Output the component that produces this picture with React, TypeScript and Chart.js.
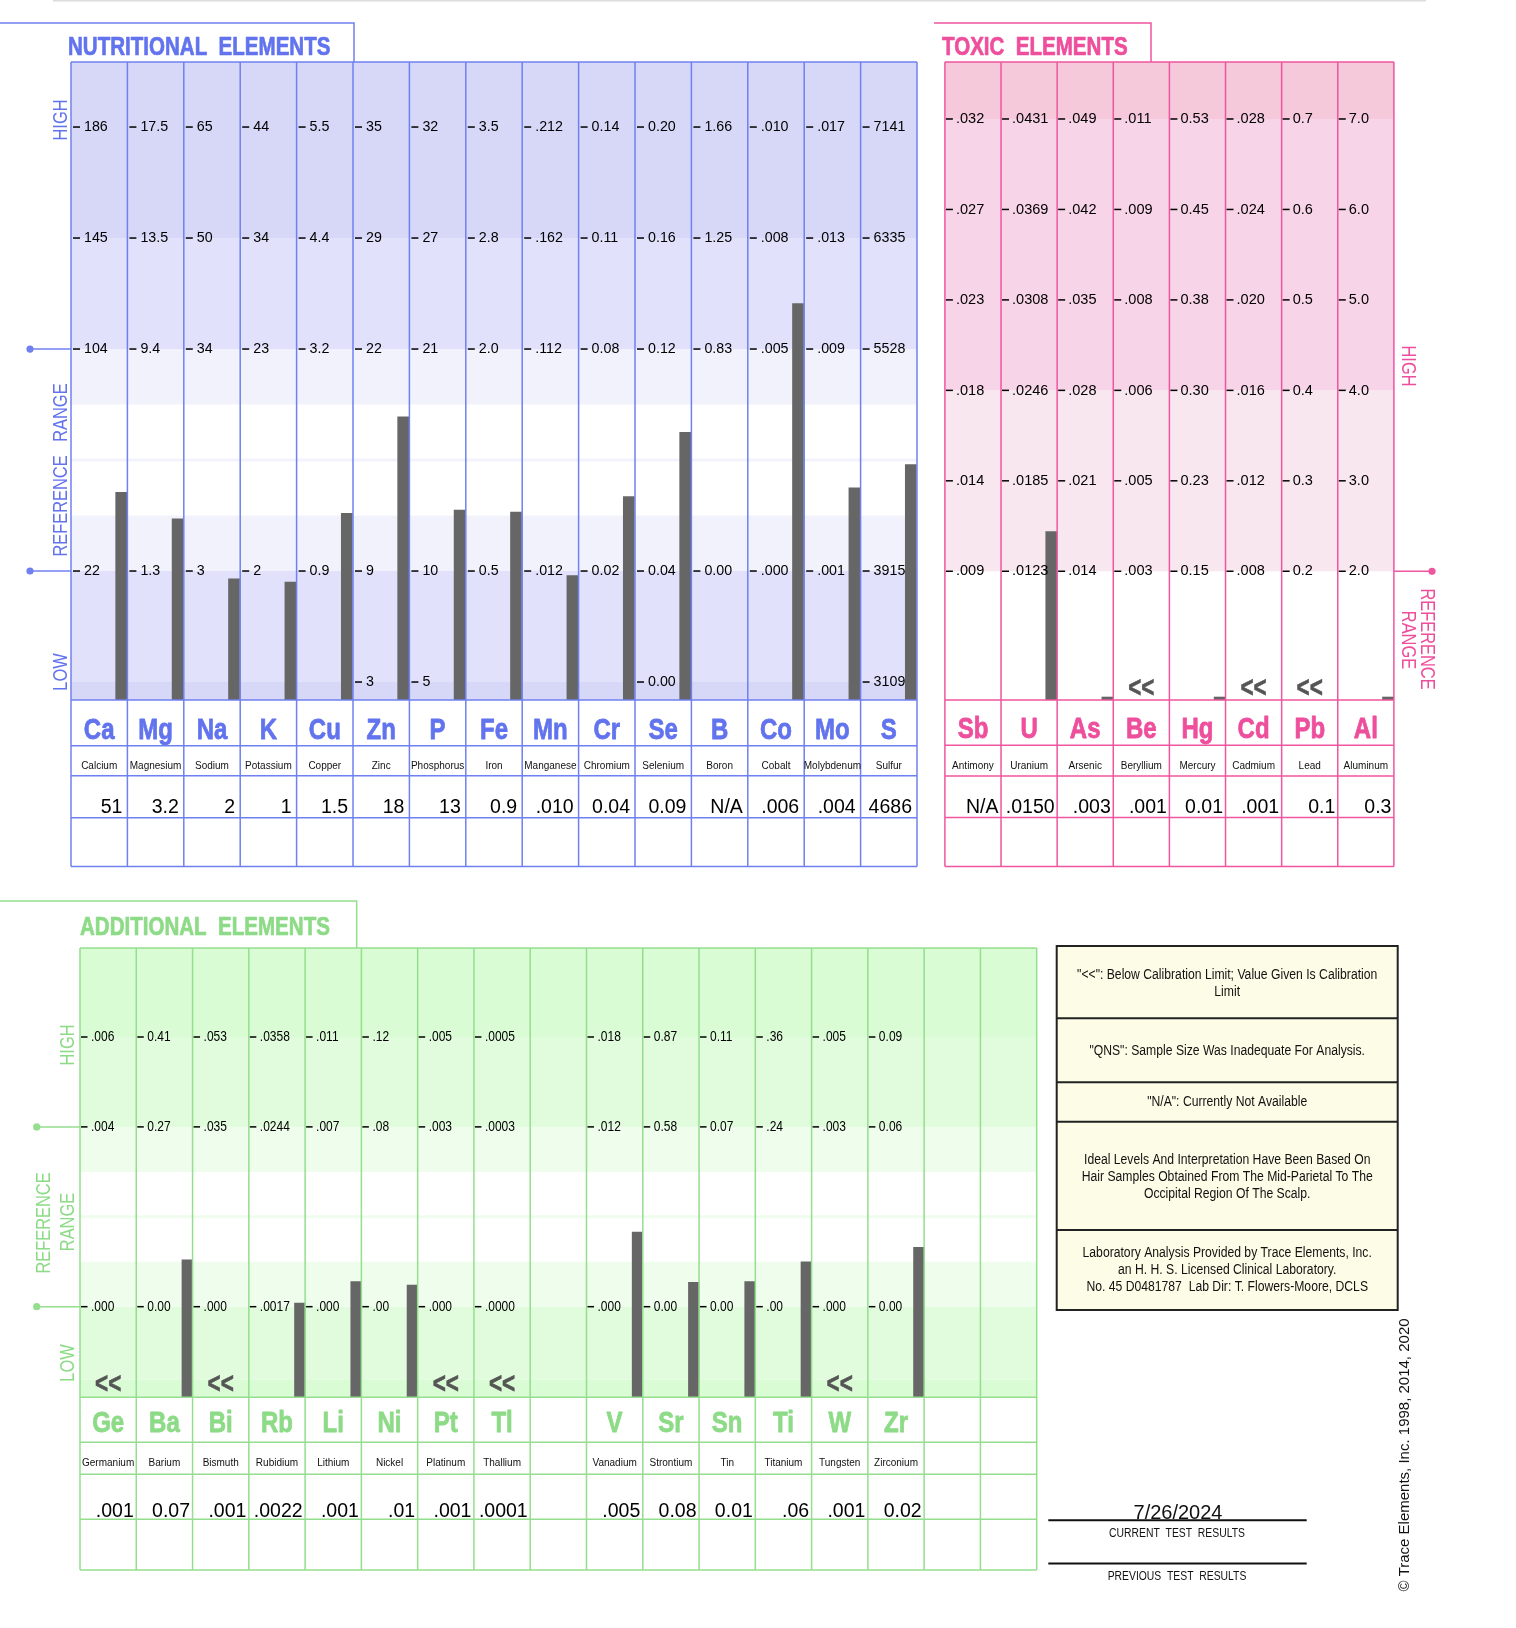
import React, { useEffect, useRef } from 'react';
import { Chart, registerables } from 'chart.js';

Chart.register(...registerables);

const PAGE_W = 1516;
const PAGE_H = 1628;
const FONT = '"Liberation Sans", Arial, Helvetica, sans-serif';

// ---------------- NUTRITIONAL ELEMENTS ----------------
const nutSymbols = ['Ca', 'Mg', 'Na', 'K', 'Cu', 'Zn', 'P', 'Fe', 'Mn', 'Cr', 'Se', 'B', 'Co', 'Mo', 'S'];
const nutNames = ['Calcium', 'Magnesium', 'Sodium', 'Potassium', 'Copper', 'Zinc', 'Phosphorus', 'Iron', 'Manganese', 'Chromium', 'Selenium', 'Boron', 'Cobalt', 'Molybdenum', 'Sulfur'];
const nutResults = ['51', '3.2', '2', '1', '1.5', '18', '13', '0.9', '.010', '0.04', '0.09', 'N/A', '.006', '.004', '4686'];
// bar heights on the panel's level scale (0 = low edge, 1 = low ref, 3 = high ref, 4, 5 = high)
const nutBarLevels = [1.71, 1.47, 0.93, 0.9, 1.52, 2.39, 1.55, 1.53, 0.96, 1.67, 2.25, null, 3.41, 1.75, 1.96];
const nutTickL5 = ['186', '17.5', '65', '44', '5.5', '35', '32', '3.5', '.212', '0.14', '0.20', '1.66', '.010', '.017', '7141'];
const nutTickL4 = ['145', '13.5', '50', '34', '4.4', '29', '27', '2.8', '.162', '0.11', '0.16', '1.25', '.008', '.013', '6335'];
const nutTickL3 = ['104', '9.4', '34', '23', '3.2', '22', '21', '2.0', '.112', '0.08', '0.12', '0.83', '.005', '.009', '5528'];
const nutTickL1 = ['22', '1.3', '3', '2', '0.9', '9', '10', '0.5', '.012', '0.02', '0.04', '0.00', '.000', '.001', '3915'];
const nutTickL0 = ['', '', '', '', '', '3', '5', '', '', '', '0.00', '', '', '', '3109'];

// ---------------- TOXIC ELEMENTS ----------------
const toxSymbols = ['Sb', 'U', 'As', 'Be', 'Hg', 'Cd', 'Pb', 'Al'];
const toxNames = ['Antimony', 'Uranium', 'Arsenic', 'Beryllium', 'Mercury', 'Cadmium', 'Lead', 'Aluminum'];
const toxResults = ['N/A', '.0150', '.003', '.001', '0.01', '.001', '0.1', '0.3'];
const toxBarLevels = [null, 0.44, -1.39, null, -1.39, null, null, -1.39];
const toxBelowLimit = [false, false, false, true, false, true, true, false];
const toxTickL5 = ['.032', '.0431', '.049', '.011', '0.53', '.028', '0.7', '7.0'];
const toxTickL4 = ['.027', '.0369', '.042', '.009', '0.45', '.024', '0.6', '6.0'];
const toxTickL3 = ['.023', '.0308', '.035', '.008', '0.38', '.020', '0.5', '5.0'];
const toxTickL2 = ['.018', '.0246', '.028', '.006', '0.30', '.016', '0.4', '4.0'];
const toxTickL1 = ['.014', '.0185', '.021', '.005', '0.23', '.012', '0.3', '3.0'];
const toxTickL0 = ['.009', '.0123', '.014', '.003', '0.15', '.008', '0.2', '2.0'];

// ---------------- ADDITIONAL ELEMENTS ----------------
const addSymbols = ['Ge', 'Ba', 'Bi', 'Rb', 'Li', 'Ni', 'Pt', 'Tl', '', 'V', 'Sr', 'Sn', 'Ti', 'W', 'Zr', '', ''];
const addNames = ['Germanium', 'Barium', 'Bismuth', 'Rubidium', 'Lithium', 'Nickel', 'Platinum', 'Thallium', '', 'Vanadium', 'Strontium', 'Tin', 'Titanium', 'Tungsten', 'Zirconium', '', ''];
const addResults = ['.001', '0.07', '.001', '.0022', '.001', '.01', '.001', '.0001', '', '.005', '0.08', '0.01', '.06', '.001', '0.02', '', ''];
const addBarLevels = [null, 0.52, null, 0.04, 0.28, 0.24, null, null, null, 0.83, 0.27, 0.28, 0.5, null, 0.66, null, null];
const addBelowLimit = [true, false, true, false, false, false, true, true, false, false, false, false, false, true, false, false, false];
const addTickL3 = ['.006', '0.41', '.053', '.0358', '.011', '.12', '.005', '.0005', '', '.018', '0.87', '0.11', '.36', '.005', '0.09', '', ''];
const addTickL2 = ['.004', '0.27', '.035', '.0244', '.007', '.08', '.003', '.0003', '', '.012', '0.58', '0.07', '.24', '.003', '0.06', '', ''];
const addTickL0 = ['.000', '0.00', '.000', '.0017', '.000', '.00', '.000', '.0000', '', '.000', '0.00', '0.00', '.00', '.000', '0.00', '', ''];

// ---------------- LEGEND / FOOTER TEXT ----------------
const legendLines: [string, number][] = [
  ['"<<": Below Calibration Limit; Value Given Is Calibration', 975],
  ['Limit', 992],
  ['"QNS": Sample Size Was Inadequate For Analysis.', 1051],
  ['"N/A": Currently Not Available', 1102.5],
  ['Ideal Levels And Interpretation Have Been Based On', 1160],
  ['Hair Samples Obtained From The Mid-Parietal To The', 1177],
  ['Occipital Region Of The Scalp.', 1194],
  ['Laboratory Analysis Provided by Trace Elements, Inc.', 1253],
  ['an H. H. S. Licensed Clinical Laboratory.', 1270],
  ['No. 45 D0481787  Lab Dir: T. Flowers-Moore, DCLS', 1287],
];
const testDate = '7/26/2024';

type TextOpts = {
  size: number;
  bold?: boolean;
  sx?: number;
  align?: CanvasTextAlign;
  base?: CanvasTextBaseline;
  color?: string;
  rot?: number;
  heavy?: number;
};

function drawText(ctx: CanvasRenderingContext2D, s: string, x: number, y: number, o: TextOpts) {
  if (!s) return;
  ctx.save();
  ctx.translate(x, y);
  if (o.rot) ctx.rotate(o.rot);
  ctx.scale(o.sx ?? 1, 1);
  ctx.font = `${o.bold ? 'bold ' : ''}${o.size}px ${FONT}`;
  ctx.fillStyle = o.color ?? '#000';
  ctx.textAlign = o.align ?? 'left';
  ctx.textBaseline = o.base ?? 'alphabetic';
  ctx.fillText(s, 0, 0);
  if (o.heavy) {
    ctx.strokeStyle = o.color ?? '#000';
    ctx.lineWidth = o.heavy;
    ctx.lineJoin = 'round';
    ctx.strokeText(s, 0, 0);
  }
  ctx.restore();
}

function hLine(ctx: CanvasRenderingContext2D, x0: number, x1: number, y: number, color: string, w = 1.5) {
  ctx.save();
  ctx.strokeStyle = color;
  ctx.lineWidth = w;
  ctx.beginPath();
  ctx.moveTo(x0, y);
  ctx.lineTo(x1, y);
  ctx.stroke();
  ctx.restore();
}
function vLine(ctx: CanvasRenderingContext2D, x: number, y0: number, y1: number, color: string, w = 1.5) {
  ctx.save();
  ctx.strokeStyle = color;
  ctx.lineWidth = w;
  ctx.beginPath();
  ctx.moveTo(x, y0);
  ctx.lineTo(x, y1);
  ctx.stroke();
  ctx.restore();
}
function dot(ctx: CanvasRenderingContext2D, x: number, y: number, color: string) {
  ctx.save();
  ctx.fillStyle = color;
  ctx.beginPath();
  ctx.arc(x, y, 3.6, 0, Math.PI * 2);
  ctx.fill();
  ctx.restore();
}

type Band = { from: number; to: number; color: string };
type TickRow = { level: number; labels: string[] };

interface PanelSpec {
  left: number; top: number; right: number; bottom: number;
  yMin: number; yMax: number;
  barShift: number; barWidth: number;
  lineColor: string; textColor: string;
  bands: Band[];
  thinLines: { level: number; color: string }[];
  tickRows: TickRow[];
  tickDash: [number, number]; tickTextDx: number; tickSx: number;
  symbols: string[]; names: string[]; results: string[];
  bars: (number | null)[]; below: boolean[];
  rowBottoms: number[];
  symbolBaseline: number; nameBaseline: number; valueBaseline: number; valuePad: number;
  belowBaseline: number;
  title: string; titleX: number; titleBaseline: number; tabLeft: number; tabRight: number; tabTop: number;
  decorate?: (ctx: CanvasRenderingContext2D, chart: any) => void;
}

function buildChart(canvas: HTMLCanvasElement, p: PanelSpec): Chart {
  const n = p.symbols.length;
  const panelPlugin = {
    id: 'panel',
    beforeDatasetsDraw(chart: any) {
      const ctx: CanvasRenderingContext2D = chart.ctx;
      const ys = chart.scales.y;
      const a = chart.chartArea;
      ctx.save();
      for (const b of p.bands) {
        const y0 = ys.getPixelForValue(b.to);
        const y1 = ys.getPixelForValue(b.from);
        ctx.fillStyle = b.color;
        ctx.fillRect(a.left, y0, a.right - a.left, y1 - y0);
      }
      for (const t of p.thinLines) {
        hLine(ctx, a.left, a.right, ys.getPixelForValue(t.level), t.color, 3);
      }
      ctx.restore();
    },
    afterDatasetsDraw(chart: any) {
      const ctx: CanvasRenderingContext2D = chart.ctx;
      const xs = chart.scales.x;
      const ys = chart.scales.y;
      const a = chart.chartArea;
      const lastBottom = p.rowBottoms[p.rowBottoms.length - 1];
      for (let i = 0; i <= n; i++) {
        vLine(ctx, xs.getPixelForValue(i - 0.5), a.top, lastBottom, p.lineColor);
      }
      hLine(ctx, a.left, a.right, a.top, p.lineColor);
      hLine(ctx, a.left, a.right, a.bottom, p.lineColor);
      for (const rb of p.rowBottoms) hLine(ctx, a.left, a.right, rb, p.lineColor);
      ctx.save();
      ctx.strokeStyle = p.lineColor;
      ctx.lineWidth = 1.5;
      ctx.beginPath();
      ctx.moveTo(p.tabLeft, p.tabTop);
      ctx.lineTo(p.tabRight, p.tabTop);
      ctx.lineTo(p.tabRight, a.top);
      ctx.stroke();
      ctx.restore();
      drawText(ctx, p.title, p.titleX, p.titleBaseline, { size: 26, bold: true, sx: 0.79, color: p.textColor, heavy: 0.7 });
      for (const row of p.tickRows) {
        const y = ys.getPixelForValue(row.level);
        row.labels.forEach((lab, i) => {
          if (!lab) return;
          const x0 = xs.getPixelForValue(i - 0.5);
          hLine(ctx, x0 + p.tickDash[0], x0 + p.tickDash[1], y, '#000', 1.5);
          drawText(ctx, lab, x0 + p.tickTextDx, y, { size: 15, sx: p.tickSx, base: 'middle', color: '#000' });
        });
      }
      for (let i = 0; i < n; i++) {
        const cx = xs.getPixelForValue(i);
        const xr = xs.getPixelForValue(i + 0.5);
        drawText(ctx, p.symbols[i], cx, p.symbolBaseline, { size: 30, bold: true, sx: 0.8, align: 'center', color: p.textColor, heavy: 0.8 });
        drawText(ctx, p.names[i], cx, p.nameBaseline, { size: 10, align: 'center', color: '#111' });
        drawText(ctx, p.results[i], xr - p.valuePad, p.valueBaseline, { size: 19.5, align: 'right', color: '#000' });
        if (p.below[i]) {
          drawText(ctx, '<<', cx, p.belowBaseline, { size: 30, bold: true, sx: 0.75, align: 'center', color: '#555', heavy: 0.6 });
        }
      }
      if (p.decorate) p.decorate(ctx, chart);
    },
  };

  const data = p.bars
    .map((v, i) => (v === null ? null : { x: i + p.barShift, y: v }))
    .filter((d) => d !== null) as { x: number; y: number }[];

  return new Chart(canvas, {
    type: 'bar',
    data: {
      datasets: [
        {
          data,
          backgroundColor: '#666666',
          borderWidth: 0,
          barThickness: p.barWidth,
          base: p.yMin,
        } as any,
      ],
    },
    options: {
      responsive: false,
      animation: false,
      devicePixelRatio: 1,
      events: [],
      layout: { padding: { left: p.left, top: p.top, right: PAGE_W - p.right, bottom: PAGE_H - p.bottom } },
      plugins: { legend: { display: false }, tooltip: { enabled: false }, title: { display: false } },
      scales: {
        x: { type: 'linear', min: -0.5, max: n - 0.5, offset: false, display: false },
        y: { type: 'linear', min: p.yMin, max: p.yMax, display: false },
      },
    },
    plugins: [panelPlugin],
  });
}

const NUT_LINE = '#6f80f0';
const NUT_TEXT = '#6273ee';
const TOX_LINE = '#f0559f';
const TOX_TEXT = '#ee4f9c';
const ADD_LINE = '#94de8e';
const ADD_TEXT = '#8ddb87';

const nutSpec: PanelSpec = {
  left: 71, top: 62, right: 917, bottom: 700,
  yMin: -0.162, yMax: 5.586,
  barShift: 0.39, barWidth: 11,
  lineColor: NUT_LINE, textColor: NUT_TEXT,
  bands: [
    { from: -0.162, to: 0, color: '#d7d7f8' },
    { from: 0, to: 1, color: '#e1e1fb' },
    { from: 1, to: 1.5, color: '#f2f2fd' },
    { from: 2.5, to: 3, color: '#f2f2fd' },
    { from: 3, to: 4, color: '#e1e1fb' },
    { from: 4, to: 5.586, color: '#d7d7f8' },
  ],
  thinLines: [{ level: 2, color: '#f3f3fd' }],
  tickRows: [
    { level: 5, labels: nutTickL5 },
    { level: 4, labels: nutTickL4 },
    { level: 3, labels: nutTickL3 },
    { level: 1, labels: nutTickL1 },
    { level: 0, labels: nutTickL0 },
  ],
  tickDash: [2, 9], tickTextDx: 13, tickSx: 0.95,
  symbols: nutSymbols, names: nutNames, results: nutResults,
  bars: nutBarLevels, below: nutSymbols.map(() => false),
  rowBottoms: [745.7, 775.7, 817.7, 866.5],
  symbolBaseline: 738.5, nameBaseline: 769, valueBaseline: 813.3, valuePad: 5,
  belowBaseline: 697,
  title: 'NUTRITIONAL  ELEMENTS', titleX: 68, titleBaseline: 55, tabLeft: 0, tabRight: 354, tabTop: 23,
  decorate(ctx, chart) {
    const ys = chart.scales.y;
    const o = { size: 20, sx: 0.82, align: 'center' as CanvasTextAlign, base: 'middle' as CanvasTextBaseline, color: NUT_TEXT, rot: -Math.PI / 2 };
    drawText(ctx, 'HIGH', 61, 120, o);
    drawText(ctx, 'REFERENCE   RANGE', 61, 470, o);
    drawText(ctx, 'LOW', 61, 672, o);
    for (const lv of [3, 1]) {
      const y = ys.getPixelForValue(lv);
      hLine(ctx, 30, 71, y, NUT_LINE, 1.5);
      dot(ctx, 30, y, NUT_LINE);
    }
    ctx.save();
    ctx.fillStyle = '#dcdcdc';
    ctx.fillRect(53, 0, 1373, 1.5);
    ctx.restore();
  },
};

const toxSpec: PanelSpec = {
  left: 944.9, top: 62, right: 1393.9, bottom: 700,
  yMin: -1.423, yMax: 5.63,
  barShift: 0.395, barWidth: 11,
  lineColor: TOX_LINE, textColor: TOX_TEXT,
  bands: [
    { from: 0, to: 2, color: '#f9e7f0' },
    { from: 2, to: 5, color: '#f7d4e7' },
    { from: 5, to: 5.63, color: '#f5c8da' },
  ],
  thinLines: [],
  tickRows: [
    { level: 5, labels: toxTickL5 },
    { level: 4, labels: toxTickL4 },
    { level: 3, labels: toxTickL3 },
    { level: 2, labels: toxTickL2 },
    { level: 1, labels: toxTickL1 },
    { level: 0, labels: toxTickL0 },
  ],
  tickDash: [1, 8], tickTextDx: 11, tickSx: 0.97,
  symbols: toxSymbols, names: toxNames, results: toxResults,
  bars: toxBarLevels, below: toxBelowLimit,
  rowBottoms: [745.3, 776, 817.5, 866.5],
  symbolBaseline: 738.3, nameBaseline: 769, valueBaseline: 813.3, valuePad: 2.5,
  belowBaseline: 696.7,
  title: 'TOXIC  ELEMENTS', titleX: 942, titleBaseline: 55, tabLeft: 934, tabRight: 1151, tabTop: 23,
  decorate(ctx, chart) {
    const ys = chart.scales.y;
    const o = { size: 20, sx: 0.82, align: 'center' as CanvasTextAlign, base: 'middle' as CanvasTextBaseline, color: TOX_TEXT, rot: Math.PI / 2 };
    drawText(ctx, 'HIGH', 1407.5, 366, o);
    drawText(ctx, 'REFERENCE', 1427, 639, o);
    drawText(ctx, 'RANGE', 1407.5, 640, o);
    const y = ys.getPixelForValue(0);
    hLine(ctx, 1394, 1432, y, TOX_LINE, 1.5);
    dot(ctx, 1432, y, TOX_LINE);
  },
};

const addSpec: PanelSpec = {
  left: 80, top: 948, right: 1036.7, bottom: 1397.3,
  yMin: -1.008, yMax: 3.99,
  barShift: 0.405, barWidth: 10.5,
  lineColor: ADD_LINE, textColor: ADD_TEXT,
  bands: [
    { from: -1.008, to: -0.81, color: '#dafcd5' },
    { from: -0.81, to: 0, color: '#e1fcdc' },
    { from: 0, to: 0.5, color: '#effdec' },
    { from: 1.5, to: 2, color: '#effdec' },
    { from: 2, to: 3, color: '#e1fcdc' },
    { from: 3, to: 3.99, color: '#dafcd5' },
  ],
  thinLines: [{ level: 1, color: '#f0fdee' }],
  tickRows: [
    { level: 3, labels: addTickL3 },
    { level: 2, labels: addTickL2 },
    { level: 0, labels: addTickL0 },
  ],
  tickDash: [1, 7.5], tickTextDx: 11, tickSx: 0.8,
  symbols: addSymbols, names: addNames, results: addResults,
  bars: addBarLevels, below: addBelowLimit,
  rowBottoms: [1442.3, 1474.3, 1519.3, 1570],
  symbolBaseline: 1431.7, nameBaseline: 1465.7, valueBaseline: 1516.5, valuePad: 2.5,
  belowBaseline: 1393.4,
  title: 'ADDITIONAL  ELEMENTS', titleX: 80, titleBaseline: 935, tabLeft: 0, tabRight: 356.7, tabTop: 901,
  decorate(ctx, chart) {
    const ys = chart.scales.y;
    const o = { size: 20, sx: 0.82, align: 'center' as CanvasTextAlign, base: 'middle' as CanvasTextBaseline, color: ADD_TEXT, rot: -Math.PI / 2 };
    drawText(ctx, 'HIGH', 68, 1045, o);
    drawText(ctx, 'REFERENCE', 44.3, 1223, o);
    drawText(ctx, 'RANGE', 68.3, 1222, o);
    drawText(ctx, 'LOW', 68, 1363, o);
    for (const lv of [2, 0]) {
      const y = ys.getPixelForValue(lv);
      hLine(ctx, 36.7, 80, y, ADD_LINE, 1.5);
      dot(ctx, 36.7, y, ADD_LINE);
    }
    ctx.save();
    ctx.fillStyle = '#fdfde7';
    ctx.fillRect(1056.7, 946, 341, 364);
    ctx.strokeStyle = '#222';
    ctx.lineWidth = 2;
    ctx.strokeRect(1056.7, 946, 341, 364);
    ctx.restore();
    for (const yy of [1018.3, 1082.3, 1121.7, 1230]) hLine(ctx, 1056.7, 1397.7, yy, '#222', 2);
    for (const [s, yy] of legendLines) {
      drawText(ctx, s, 1227.2, yy, { size: 14, sx: 0.87, align: 'center', base: 'middle', color: '#111' });
    }
    drawText(ctx, testDate, 1178, 1518.5, { size: 20, align: 'center', color: '#111' });
    hLine(ctx, 1048.3, 1306.7, 1520.3, '#111', 2);
    drawText(ctx, 'CURRENT  TEST  RESULTS', 1177, 1533.5, { size: 12.5, sx: 0.83, align: 'center', base: 'middle', color: '#111' });
    hLine(ctx, 1048.3, 1306.7, 1563.5, '#111', 2);
    drawText(ctx, 'PREVIOUS  TEST  RESULTS', 1177, 1577, { size: 12.5, sx: 0.83, align: 'center', base: 'middle', color: '#111' });
    drawText(ctx, '\u00A9 Trace Elements, Inc. 1998, 2014, 2020', 1405, 1455, { size: 15, align: 'center', base: 'middle', color: '#111', rot: -Math.PI / 2 });
  },
};

export default function App() {
  const r1 = useRef<HTMLCanvasElement>(null);
  const r2 = useRef<HTMLCanvasElement>(null);
  const r3 = useRef<HTMLCanvasElement>(null);

  useEffect(() => {
    const charts = [buildChart(r1.current!, nutSpec), buildChart(r2.current!, toxSpec), buildChart(r3.current!, addSpec)];
    return () => charts.forEach((c) => c.destroy());
  }, []);

  const cs: React.CSSProperties = { position: 'absolute', left: 0, top: 0, width: PAGE_W, height: PAGE_H };
  return (
    <div style={{ position: 'absolute', left: 0, top: 0, width: PAGE_W, height: PAGE_H, background: '#fff' }}>
      <canvas ref={r1} width={PAGE_W} height={PAGE_H} style={cs} />
      <canvas ref={r2} width={PAGE_W} height={PAGE_H} style={cs} />
      <canvas ref={r3} width={PAGE_W} height={PAGE_H} style={cs} />
    </div>
  );
}
